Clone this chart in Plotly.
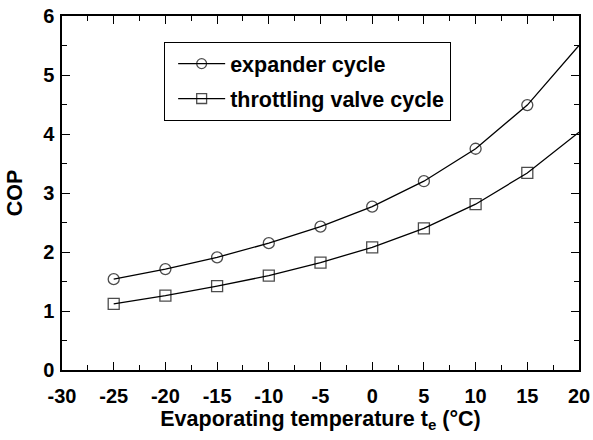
import plotly.graph_objects as go

temps = [-25, -20, -15, -10, -5, 0, 5, 10, 15, 20]
cop_expander = [1.54, 1.71, 1.91, 2.15, 2.43, 2.77, 3.20, 3.75, 4.49, 5.50]
cop_throttling = [1.12, 1.26, 1.42, 1.60, 1.82, 2.08, 2.40, 2.81, 3.34, 4.03]
names = ["expander cycle", "throttling valve cycle"]
symbols = ["circle-open", "square-open"]
x_tickvals = [-30, -25, -20, -15, -10, -5, 0, 5, 10, 15, 20]
x_ticktext = ["-30", "-25", "-20", "-15", "-10", "-5", "0", "5", "10", "15", "20"]
y_tickvals = [0, 1, 2, 3, 4, 5, 6]
y_ticktext = ["0", "1", "2", "3", "4", "5", "6"]

FONT = "Arial, Liberation Sans"
FS_TICK = 20
FS = 21.5

msize = [11] * (len(temps) - 1) + [0]

fig = go.Figure()
for i, (ys, nm, sym) in enumerate(zip([cop_expander, cop_throttling], names, symbols)):
    fig.add_trace(go.Scatter(
        x=temps, y=ys, name=nm, mode="lines+markers",
        line=dict(color="black", width=1.3),
        marker=dict(symbol=sym, size=msize, color="black", line=dict(width=1.3, color="black")),
        legendgroup=str(i),
    ))

axis_common = dict(
    showline=True, linecolor="black", linewidth=1.5, mirror="ticks",
    ticks="inside", ticklen=8, tickwidth=1.2, tickcolor="black",
    showgrid=False, zeroline=False, ticklabeloverflow="allow",
    tickfont=dict(size=FS_TICK, family=FONT, color="black", weight="bold"),
)

fig.update_xaxes(range=[-30, 20], tickmode="array", tickvals=x_tickvals, ticktext=x_ticktext,
                 ticklabelstandoff=7,
                 minor=dict(ticks="inside", ticklen=5, dtick=2.5, tick0=-30, tickcolor="black", tickwidth=1.2),
                 title=dict(text="Evaporating temperature t<sub>e</sub> (°C)",
                            font=dict(size=FS, family=FONT, color="black", weight="bold"),
                            standoff=1),
                 **axis_common)
fig.update_yaxes(range=[0, 6], tickmode="array", tickvals=y_tickvals, ticktext=y_ticktext,
                 ticklabelstandoff=2,
                 minor=dict(ticks="inside", ticklen=5, dtick=0.5, tick0=0, tickcolor="black", tickwidth=1.2),
                 title=dict(text="COP",
                            font=dict(size=FS, family=FONT, color="black", weight="bold"),
                            standoff=15),
                 **axis_common)

fig.update_layout(
    width=593, height=440,
    margin=dict(l=62, r=14, t=16, b=70, autoexpand=False),
    plot_bgcolor="white", paper_bgcolor="white",
    font=dict(family=FONT, color="black", weight="bold", size=FS),
    legend=dict(x=0.197, y=0.927, xanchor="left", yanchor="top",
                bordercolor="black", borderwidth=1.3, bgcolor="white",
                indentation=8, itemwidth=47, entrywidth=280,
                tracegroupgap=4, font=dict(size=FS, weight="bold")),
)

fig.write_html("out.html", config={"displayModeBar": False},
               post_script="document.body.style.margin='0';document.body.style.overflow='hidden';")
